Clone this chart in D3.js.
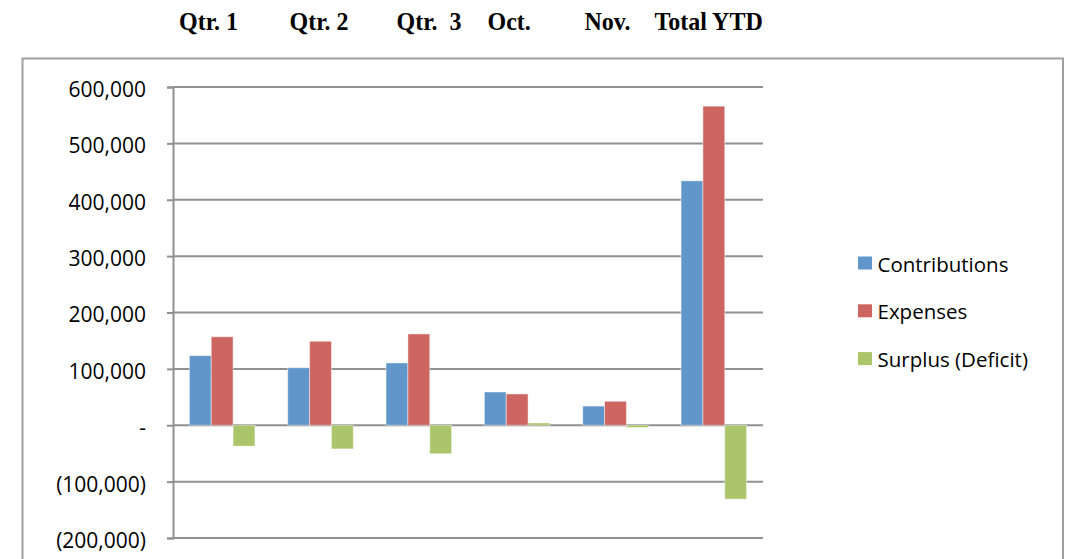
<!DOCTYPE html>
<html>
<head>
<meta charset="utf-8">
<script src="https://cdn.jsdelivr.net/npm/d3@7"></script>
<style>
  html, body { margin: 0; padding: 0; background: #fff; }
  svg { display: block; }
</style>
</head>
<body>
<svg id="chart" width="1072" height="559"></svg>
<script>
// ---- data ----
const categories = ["Qtr. 1", "Qtr. 2", "Qtr. 3", "Oct.", "Nov.", "Total YTD"];
const headerLabels = ["Qtr. 1", "Qtr. 2", "Qtr.  3", "Oct.", "Nov.", "Total YTD"];
const seriesNames = ["Contributions", "Expenses", "Surplus (Deficit)"];
const contributions = [123500, 102000, 110500, 59000, 34000, 433500];
const expenses = [157000, 149000, 162000, 55500, 42500, 566000];
const surplus = [-37000, -42000, -50500, 4000, -4000, -131000];
const yTicks = [-200000, -100000, 0, 100000, 200000, 300000, 400000, 500000, 600000];

// ---- layout ----
const colors = ["#6096ca", "#cd6661", "#aac56a"];
const headerX = [179, 289.5, 396.5, 487.5, 584.5, 654.5];
const plot = { left: 173, right: 763, top: 87, bottom: 538 };

const svg = d3.select("#chart");
const seriesValues = [contributions, expenses, surplus];
const rows = categories.map((c, i) => ({ cat: c, vals: seriesValues.map((s, j) => ({ key: seriesNames[j], v: s[i] })) }));

// outer border
svg.append("rect")
  .attr("x", 22.5).attr("y", 58.5)
  .attr("width", 1063 - 22.5).attr("height", 600)
  .attr("fill", "none").attr("stroke", "#a0a0a0").attr("stroke-width", 2);

// header labels
svg.append("g").selectAll("text").data(headerLabels).join("text")
  .attr("transform", (d, i) => `translate(${headerX[i]},30) scale(0.96,1)`)
  .attr("font-family", "'Liberation Serif', 'Times New Roman', serif")
  .attr("font-weight", "bold").attr("font-size", 25)
  .attr("fill", "#000")
  .style("white-space", "pre")
  .text(d => d);

const x0 = d3.scaleBand().domain(categories).range([plot.left, plot.right])
  .paddingInner(1/3).paddingOuter(1/6);
const x1 = d3.scaleBand().domain(seriesNames).range([0, x0.bandwidth()]);
const y = d3.scaleLinear().domain([-200000, 600000]).range([plot.bottom, plot.top]);

const fmt = v => v === 0 ? "-" : (v < 0 ? "(" + d3.format(",")(-v) + ")" : d3.format(",")(v));

// gridlines
svg.append("g").selectAll("line").data(yTicks).join("line")
  .attr("x1", plot.left).attr("x2", plot.right)
  .attr("y1", d => y(d)).attr("y2", d => y(d))
  .attr("stroke", "#909090").attr("stroke-width", 2);

// y axis
const yAxis = svg.append("g").attr("transform", `translate(${plot.left},0)`)
  .call(d3.axisLeft(y).tickValues(yTicks).tickFormat(fmt).tickSize(6).tickPadding(21));
yAxis.select(".domain").attr("stroke", "#909090").attr("stroke-width", 2);
yAxis.selectAll(".tick line").attr("stroke", "#909090").attr("stroke-width", 2);
yAxis.selectAll(".tick text")
  .attr("font-family", "'Open Sans', sans-serif").attr("font-size", 21)
  .attr("fill", "#000").attr("dy", "0.45em");

// bars
svg.append("g").selectAll("g").data(rows).join("g")
  .attr("transform", d => `translate(${x0(d.cat)},0)`)
  .selectAll("rect").data(d => d.vals).join("rect")
  .attr("x", d => x1(d.key))
  .attr("width", x1.bandwidth())
  .attr("y", d => y(Math.max(0, d.v)))
  .attr("height", d => Math.abs(y(d.v) - y(0)))
  .attr("fill", (d, i) => colors[i])
  .attr("stroke", "rgba(255,255,255,0.45)").attr("stroke-width", 1);

// legend
const lg = svg.append("g").selectAll("g").data(seriesNames).join("g")
  .attr("transform", (d, i) => `translate(858,${256.5 + i * 47.8})`);
lg.append("rect").attr("width", 14).attr("height", 13).attr("fill", (d, i) => colors[i]);
lg.append("text").attr("x", 19.5).attr("y", 15)
  .attr("font-family", "'Open Sans', sans-serif").attr("font-size", 20.5)
  .attr("fill", "#000").text(d => d);
</script>
</body>
</html>
